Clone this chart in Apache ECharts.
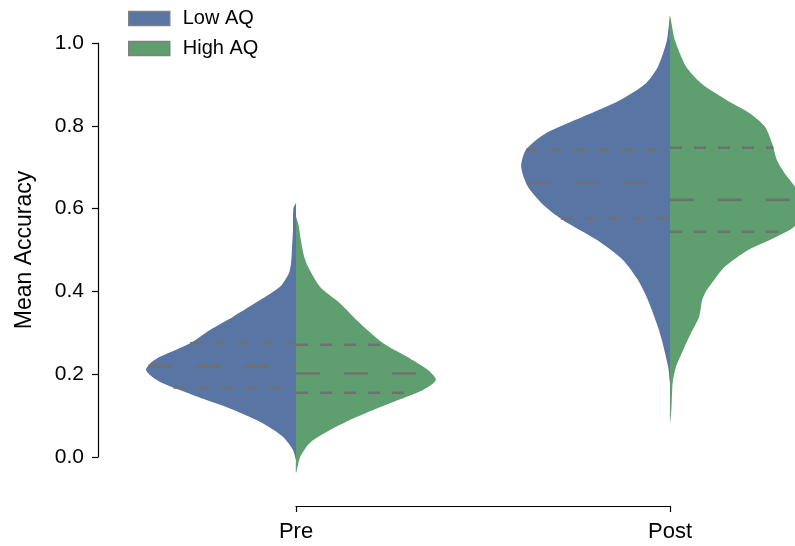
<!doctype html>
<html>
<head>
<meta charset="utf-8">
<title>Mean Accuracy</title>
<script src="https://cdn.jsdelivr.net/npm/echarts@6/dist/echarts.min.js"></script>
</head>
<body style="margin:0;padding:0">
<div id="chart" style="width:795px;height:546px;"></div>
<script>
var categories = ['Pre', 'Post'];
var groups = ['Low AQ', 'High AQ'];
var colors = ['#5875a4', '#5f9e6e'];

// violin outlines: [accuracy, half width as share of the category spacing]
var preLow = [[0.613, 0], [0.600, 0.007], [0.550, 0.008], [0.500, 0.011], [0.470, 0.013], [0.444, 0.019],
  [0.411, 0.043], [0.379, 0.096], [0.339, 0.168], [0.307, 0.230], [0.275, 0.283], [0.242, 0.364],
  [0.226, 0.390], [0.210, 0.401], [0.194, 0.385], [0.178, 0.356], [0.146, 0.265], [0.114, 0.168],
  [0.081, 0.088], [0.049, 0.035], [0.017, 0.008], [-0.007, 0]];
var preHigh = [[0.580, 0], [0.560, 0.007], [0.524, 0.013], [0.487, 0.021], [0.460, 0.032], [0.411, 0.064],
  [0.371, 0.118], [0.323, 0.171], [0.275, 0.233], [0.242, 0.297], [0.210, 0.353], [0.186, 0.374],
  [0.162, 0.340], [0.130, 0.251], [0.097, 0.163], [0.065, 0.091], [0.034, 0.037], [0.000, 0.011],
  [-0.039, 0]];
var postLow = [[1.065, 0], [1.007, 0.008], [0.943, 0.032], [0.903, 0.064], [0.862, 0.134], [0.822, 0.233],
  [0.782, 0.332], [0.742, 0.385], [0.701, 0.398], [0.653, 0.380], [0.605, 0.334], [0.572, 0.286],
  [0.524, 0.195], [0.476, 0.126], [0.428, 0.086], [0.379, 0.059], [0.299, 0.027], [0.218, 0.005],
  [0.178, 0]];
var postHigh = [[1.065, 0], [1.007, 0.013], [0.943, 0.043], [0.903, 0.083], [0.862, 0.152], [0.830, 0.214],
  [0.798, 0.254], [0.758, 0.273], [0.717, 0.286], [0.685, 0.307], [0.653, 0.334], [0.620, 0.350],
  [0.590, 0.348], [0.556, 0.332], [0.524, 0.267], [0.500, 0.209], [0.460, 0.147], [0.430, 0.120],
  [0.400, 0.096], [0.379, 0.086], [0.339, 0.078], [0.299, 0.056], [0.258, 0.035], [0.218, 0.016],
  [0.178, 0.007], [0.120, 0.004], [0.081, 0]];

// quartiles (25%, median, 75%)
var preLowQuart = [0.168, 0.220, 0.275];
var preHighQuart = [0.155, 0.202, 0.271];
var postLowQuart = [0.576, 0.662, 0.742];
var postHighQuart = [0.544, 0.621, 0.747];

var profiles = [[preLow, postLow], [preHigh, postHigh]];
var quartiles = [[preLowQuart, postLowQuart], [preHighQuart, postHighQuart]];

var font = "'Liberation Sans', Arial, sans-serif";
var ink = '#000';

// plot spans -0.5 .. 1.5 in category units, 374px apart; the right part falls off the page
var W = 795, plotLeft = 109, step = 374;
var xMax = (W - plotLeft) / step - 0.5;

function widthAt(prof, y) {
  for (var i = 1; i < prof.length; i++) {
    var a = prof[i - 1], b = prof[i];
    if (y <= a[0] && y >= b[0]) {
      var t = (a[0] - y) / (a[0] - b[0]);
      return a[1] + t * (b[1] - a[1]);
    }
  }
  return 0;
}

function makeRender(g) {
  var side = g === 0 ? -1 : 1;
  return function (params, api) {
    var cat = api.value(0);
    var prof = profiles[g][cat];
    var pts = [];
    for (var i = 0; i < prof.length; i++) {
      pts.push(api.coord([cat + side * prof[i][1], prof[i][0]]));
    }
    for (var j = prof.length - 2; j >= 1; j--) {
      pts.push(api.coord([cat, prof[j][0]]));
    }
    var children = [{
      type: 'polygon',
      shape: { points: pts, smooth: 0.25 },
      style: { fill: colors[g], stroke: null }
    }];
    quartiles[g][cat].forEach(function (q, k) {
      var w = widthAt(prof, q);
      var edge = api.coord([cat + side * w, q]);
      var mid = api.coord([cat, q]);
      var p1 = side < 0 ? edge : mid;
      var p2 = side < 0 ? mid : edge;
      children.push({
        type: 'line',
        shape: { x1: p1[0], y1: p1[1], x2: p2[0], y2: p2[1] },
        style: { stroke: '#707070', lineWidth: 2.5, lineDash: k === 1 ? [24, 24] : [12, 12], lineCap: 'butt' }
      });
    });
    return { type: 'group', children: children };
  };
}

var chart = echarts.init(document.getElementById('chart'));

chart.setOption({
  animation: false,
  backgroundColor: '#fff',
  color: colors,
  legend: {
    orient: 'vertical',
    left: 128,
    top: 8,
    padding: 0,
    itemWidth: 41,
    itemHeight: 14,
    itemGap: 9,
    icon: 'rect',
    textStyle: { fontFamily: font, fontSize: 20, lineHeight: 21, color: ink, padding: [0, 0, 0, 8] },
    data: groups.map(function (g) {
      return { name: g, itemStyle: { borderColor: '#808080', borderWidth: 1.5 } };
    })
  },
  grid: [
    { left: plotLeft, top: 43, right: 0, height: 414 },
    { left: 296, top: 505, width: 374, height: 1 }
  ],
  xAxis: [
    { gridIndex: 0, type: 'value', min: -0.5, max: xMax, show: false },
    {
      gridIndex: 1,
      type: 'category',
      data: categories,
      boundaryGap: false,
      axisLine: { lineStyle: { color: ink, width: 1.2 } },
      axisTick: { length: 6, lineStyle: { color: ink, width: 1.2 } },
      axisLabel: { fontFamily: font, fontSize: 22, color: ink, margin: 15 }
    }
  ],
  yAxis: [
    {
      gridIndex: 0,
      type: 'value',
      min: 0,
      max: 1,
      interval: 0.2,
      offset: 11,
      name: 'Mean Accuracy',
      nameLocation: 'middle',
      nameGap: 62,
      nameTextStyle: { fontFamily: font, fontSize: 23, color: ink },
      splitLine: { show: false },
      axisLine: { show: true, onZero: false, lineStyle: { color: ink, width: 1.2 } },
      axisTick: { show: true, length: 6, lineStyle: { color: ink, width: 1.2 } },
      axisLabel: {
        fontFamily: font, fontSize: 21, color: ink, margin: 14,
        formatter: function (v) { return v.toFixed(1); }
      }
    },
    { gridIndex: 1, type: 'value', show: false }
  ],
  series: groups.map(function (g, gi) {
    return {
      name: g,
      type: 'custom',
      xAxisIndex: 0,
      yAxisIndex: 0,
      itemStyle: { color: colors[gi] },
      renderItem: makeRender(gi),
      encode: { x: 0 },
      data: categories.map(function (c, ci) { return [ci]; })
    };
  })
});
</script>
</body>
</html>
